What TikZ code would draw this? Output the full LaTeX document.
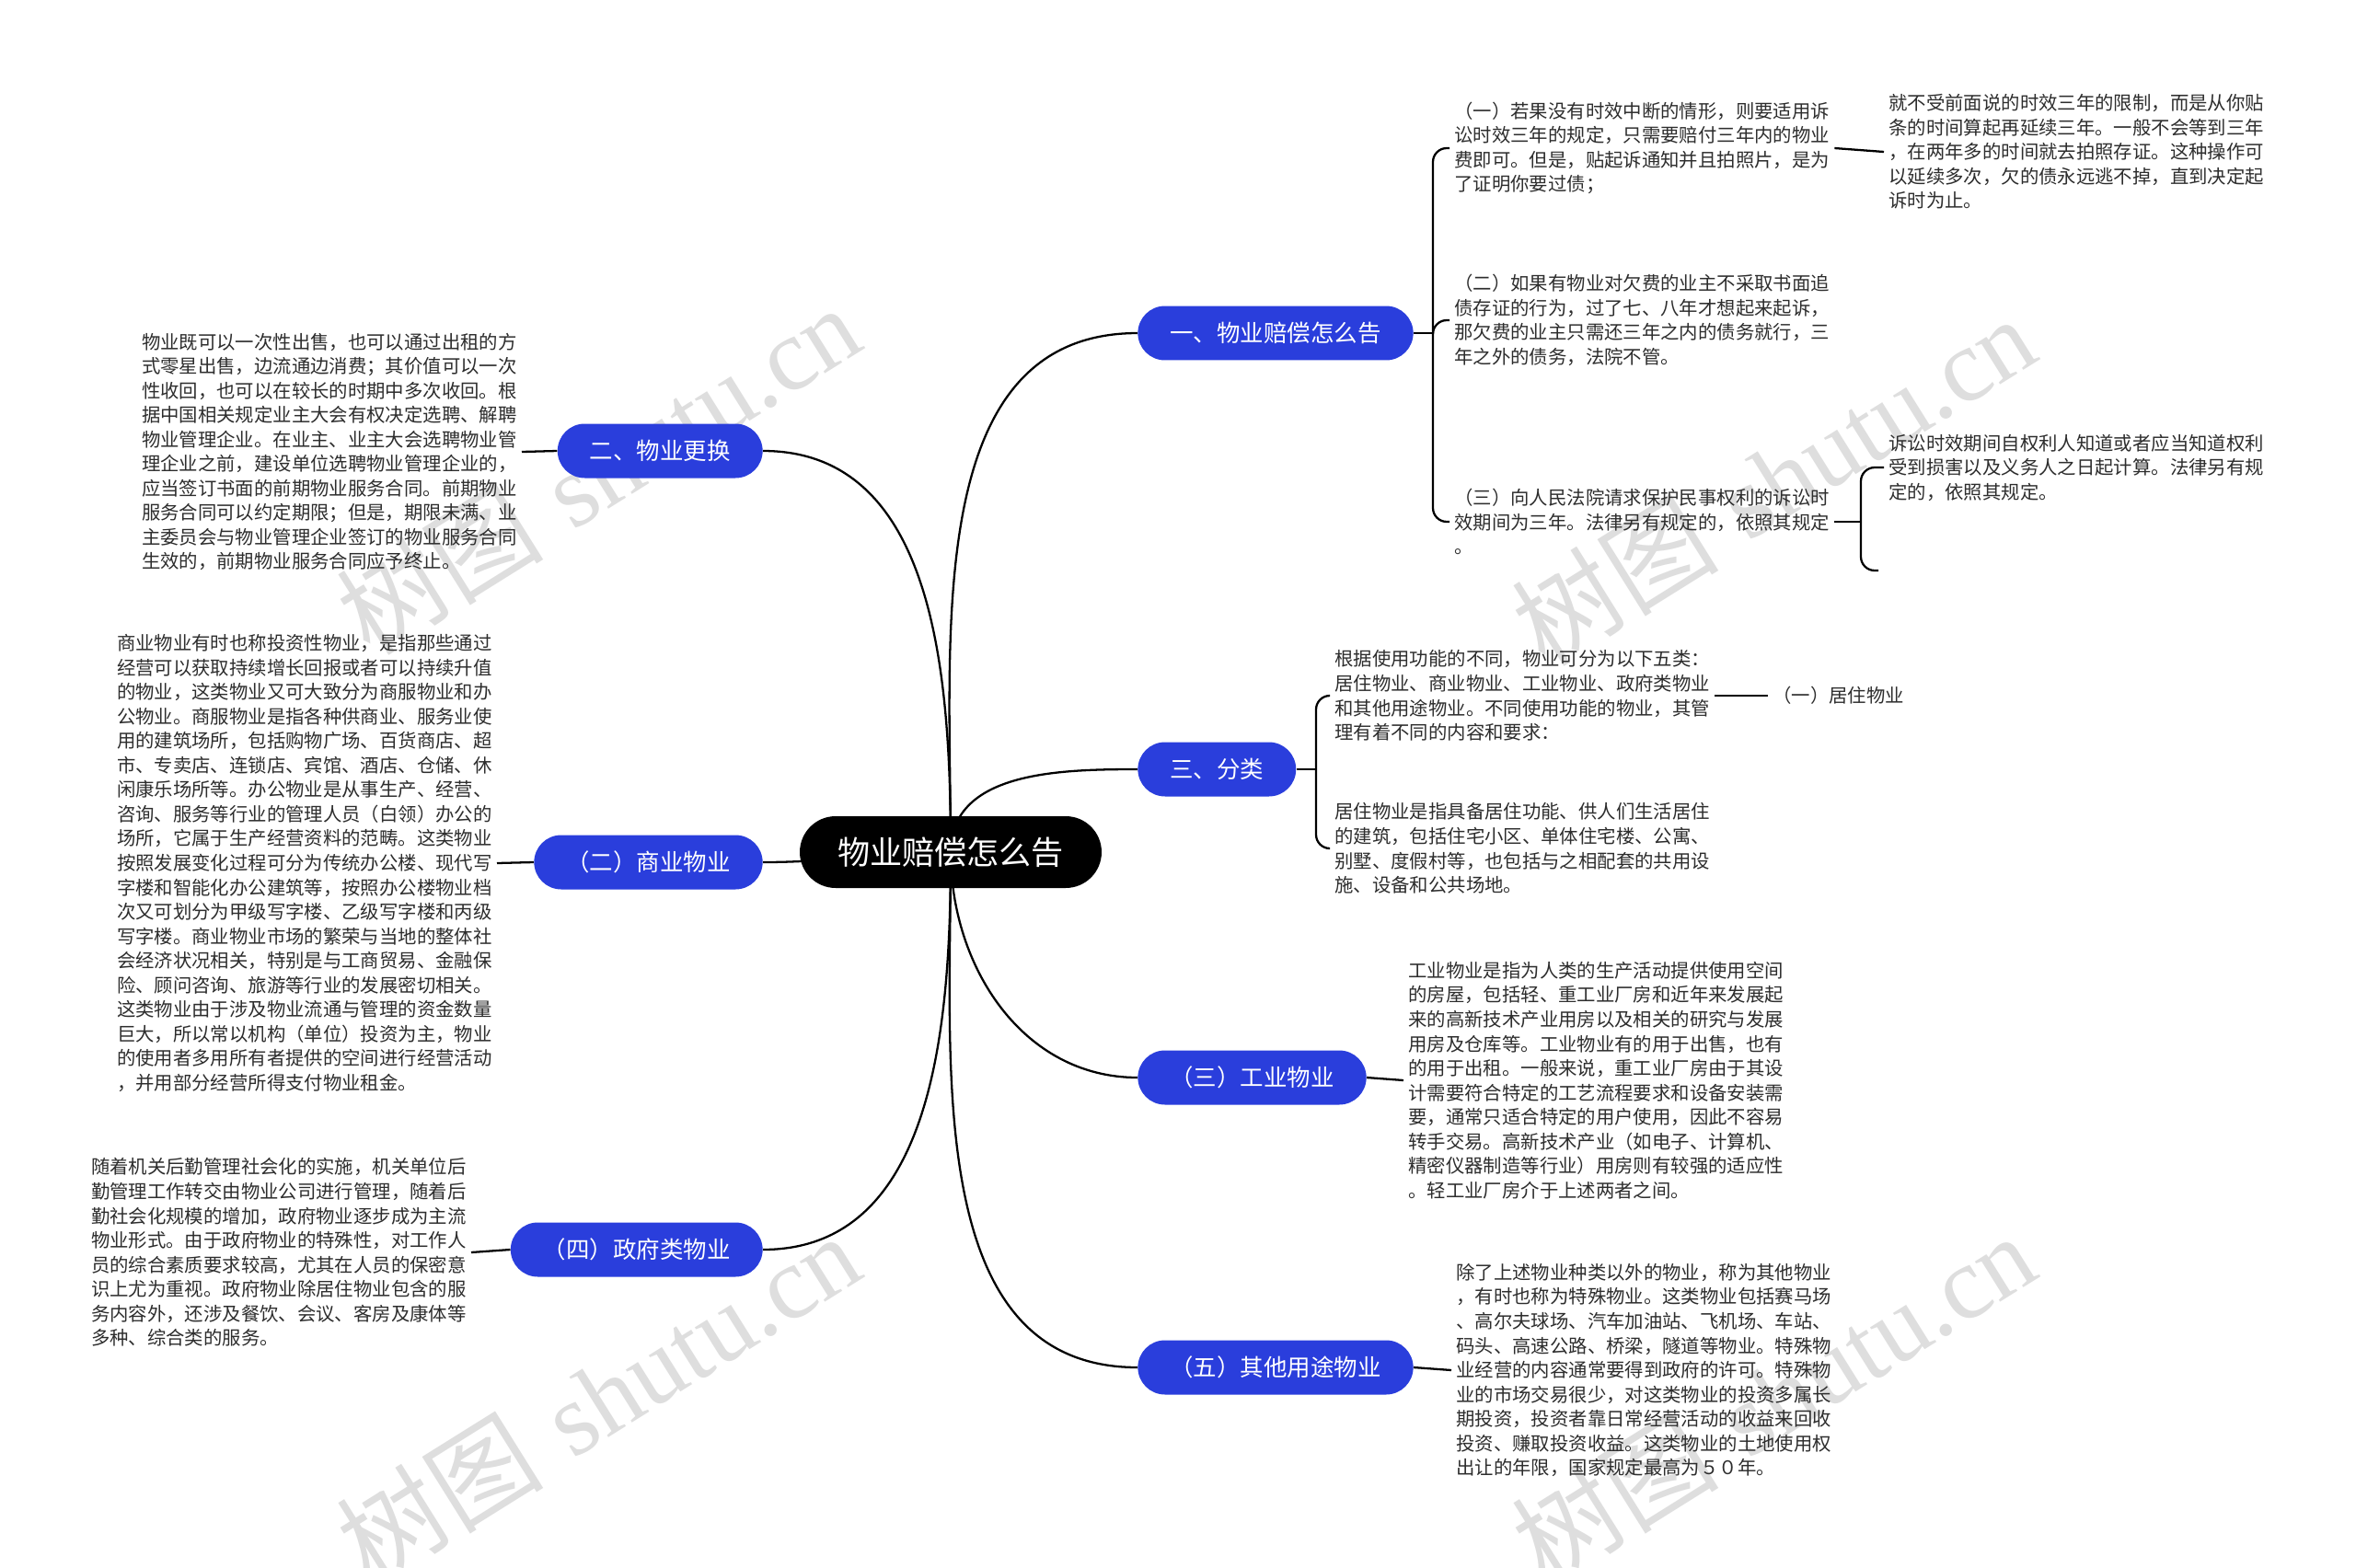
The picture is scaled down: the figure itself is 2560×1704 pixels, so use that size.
\documentclass[tikz,border=0pt]{standalone}
\usepackage{fontspec}
\newfontfamily\cjk{Noto Sans CJK SC}
\newfontfamily\wmserif{Liberation Serif}
\usepackage{xcolor}
\usetikzlibrary{backgrounds}
\definecolor{nodeblue}{RGB}{42,62,220}
\definecolor{txtgray}{RGB}{45,45,45}

\begin{document}
\begin{tikzpicture}[x=0.02cm, y=-0.02cm,
    rt/.style={fill=black, text=white, rounded corners=0.78cm, minimum height=1.56cm,
               inner xsep=0.82cm, font=\cjk\fontsize{20}{24}\selectfont},
    bl/.style={fill=nodeblue, text=white, rounded corners=0.59cm, minimum height=1.18cm,
               inner xsep=0.7cm, font=\cjk\fontsize{14.5}{17}\selectfont},
    tx/.style={align=left, inner sep=0.1cm, text=txtgray,
               font=\cjk\fontsize{11.6}{15.1}\selectfont},
    ed/.style={-, line width=1.3pt, black},
    br/.style={ed, rounded corners=0.3cm},
    wm/.style={rotate=32, text=black!13, font=\fontsize{64}{70}\selectfont}
  ]
    \useasboundingbox (0,0) rectangle (2560,1704);

    % centre and first level
    \node[rt] (root) at (1033,926) {物业赔偿怎么告};
    \node[bl, anchor=west] (peichang) at (1236,362)  {一、物业赔偿怎么告};
    \node[bl, anchor=east] (genghuan) at (829,490)   {二、物业更换};
    \node[bl, anchor=west] (fenlei)   at (1236,836)  {三、分类};
    \node[bl, anchor=east] (shangye)  at (829,937)   {（二）商业物业};
    \node[bl, anchor=west] (gongye)   at (1236,1171) {（三）工业物业};
    \node[bl, anchor=east] (zhengfu)  at (829,1358)  {（四）政府类物业};
    \node[bl, anchor=west] (qita)     at (1236,1486) {（五）其他用途物业};

    % texts
    \node[tx, anchor=west] (sx1) at (1575,161)
      {（一）若果没有时效中断的情形，则要适用诉\\讼时效三年的规定，只需要赔付三年内的物业\\费即可。但是，贴起诉通知并且拍照片，是为\\了证明你要过债；};
    \node[tx, anchor=west] (sx1b) at (2047,165)
      {就不受前面说的时效三年的限制，而是从你贴\\条的时间算起再延续三年。一般不会等到三年\\，在两年多的时间就去拍照存证。这种操作可\\以延续多次，欠的债永远逃不掉，直到决定起\\诉时为止。};
    \node[tx, anchor=west] (sx2) at (1575,348)
      {（二）如果有物业对欠费的业主不采取书面追\\债存证的行为，过了七、八年才想起来起诉，\\那欠费的业主只需还三年之内的债务就行，三\\年之外的债务，法院不管。};
    \node[tx, anchor=west] (sx3) at (1575,567)
      {（三）向人民法院请求保护民事权利的诉讼时\\效期间为三年。法律另有规定的，依照其规定\\。};
    \node[tx, anchor=west] (sx3b) at (2047,508)
      {诉讼时效期间自权利人知道或者应当知道权利\\受到损害以及义务人之日起计算。法律另有规\\定的，依照其规定。};
    \coordinate (sx3c) at (2041,620);

    \node[tx, anchor=east] (ghtxt) at (567,491)
      {物业既可以一次性出售，也可以通过出租的方\\式零星出售，边流通边消费；其价值可以一次\\性收回，也可以在较长的时期中多次收回。根\\据中国相关规定业主大会有权决定选聘、解聘\\物业管理企业。在业主、业主大会选聘物业管\\理企业之前，建设单位选聘物业管理企业的，\\应当签订书面的前期物业服务合同。前期物业\\服务合同可以约定期限；但是，期限未满、业\\主委员会与物业管理企业签订的物业服务合同\\生效的，前期物业服务合同应予终止。};

    \node[tx, anchor=west] (fl1) at (1445,756)
      {根据使用功能的不同，物业可分为以下五类：\\居住物业、商业物业、工业物业、政府类物业\\和其他用途物业。不同使用功能的物业，其管\\理有着不同的内容和要求：};
    \node[tx, anchor=west] (fl2) at (1445,922)
      {居住物业是指具备居住功能、供人们生活居住\\的建筑，包括住宅小区、单体住宅楼、公寓、\\别墅、度假村等，也包括与之相配套的共用设\\施、设备和公共场地。};
    \node[tx, anchor=west] (juzhu) at (1921,756) {（一）居住物业};

    \node[tx, anchor=east] (sytxt) at (540,938)
      {商业物业有时也称投资性物业，是指那些通过\\经营可以获取持续增长回报或者可以持续升值\\的物业，这类物业又可大致分为商服物业和办\\公物业。商服物业是指各种供商业、服务业使\\用的建筑场所，包括购物广场、百货商店、超\\市、专卖店、连锁店、宾馆、酒店、仓储、休\\闲康乐场所等。办公物业是从事生产、经营、\\咨询、服务等行业的管理人员（白领）办公的\\场所，它属于生产经营资料的范畴。这类物业\\按照发展变化过程可分为传统办公楼、现代写\\字楼和智能化办公建筑等，按照办公楼物业档\\次又可划分为甲级写字楼、乙级写字楼和丙级\\写字楼。商业物业市场的繁荣与当地的整体社\\会经济状况相关，特别是与工商贸易、金融保\\险、顾问咨询、旅游等行业的发展密切相关。\\这类物业由于涉及物业流通与管理的资金数量\\巨大，所以常以机构（单位）投资为主，物业\\的使用者多用所有者提供的空间进行经营活动\\，并用部分经营所得支付物业租金。};

    \node[tx, anchor=west] (gytxt) at (1525,1174)
      {工业物业是指为人类的生产活动提供使用空间\\的房屋，包括轻、重工业厂房和近年来发展起\\来的高新技术产业用房以及相关的研究与发展\\用房及仓库等。工业物业有的用于出售，也有\\的用于出租。一般来说，重工业厂房由于其设\\计需要符合特定的工艺流程要求和设备安装需\\要，通常只适合特定的用户使用，因此不容易\\转手交易。高新技术产业（如电子、计算机、\\精密仪器制造等行业）用房则有较强的适应性\\。轻工业厂房介于上述两者之间。};

    \node[tx, anchor=east] (zftxt) at (512,1361)
      {随着机关后勤管理社会化的实施，机关单位后\\勤管理工作转交由物业公司进行管理，随着后\\勤社会化规模的增加，政府物业逐步成为主流\\物业形式。由于政府物业的特殊性，对工作人\\员的综合素质要求较高，尤其在人员的保密意\\识上尤为重视。政府物业除居住物业包含的服\\务内容外，还涉及餐饮、会议、客房及康体等\\多种、综合类的服务。};

    \node[tx, anchor=west] (qttxt) at (1577,1489)
      {除了上述物业种类以外的物业，称为其他物业\\，有时也称为特殊物业。这类物业包括赛马场\\、高尔夫球场、汽车加油站、飞机场、车站、\\码头、高速公路、桥梁，隧道等物业。特殊物\\业经营的内容通常要得到政府的许可。特殊物\\业的市场交易很少，对这类物业的投资多属长\\期投资，投资者靠日常经营活动的收益来回收\\投资、赚取投资收益。这类物业的土地使用权\\出让的年限，国家规定最高为５０年。};

    % brackets
    \coordinate (bpc) at (1557,362);
    \coordinate (bfl) at (1430,836);
    \coordinate (bsx) at (2022,567);
    \draw[ed] (peichang.east) -- (bpc);
    \draw[br] (bpc) |- (sx1.west); \draw[br] (bpc) |- (sx2.west); \draw[br] (bpc) |- (sx3.west);
    \draw[ed] (sx1.east) -- (sx1b.west);
    \draw[ed] (sx3.east) -- (bsx);
    \draw[br] (bsx) |- (sx3b.west); \draw[br] (bsx) |- (sx3c);
    \draw[ed] (fenlei.east) -- (bfl);
    \draw[br] (bfl) |- (fl1.west); \draw[br] (bfl) |- (fl2.west);
    \draw[ed] (fl1.east) -- (juzhu.west);
    \draw[ed] (ghtxt.east) -- (genghuan.west);
    \draw[ed] (sytxt.east) -- (shangye.west);
    \draw[ed] (zftxt.east) -- (zhengfu.west);
    \draw[ed] (gongye.east) -- (gytxt.west);
    \draw[ed] (qita.east) -- (qttxt.west);

    \begin{scope}[on background layer]
      \fill[white] (0,0) rectangle (2560,1704);
      \node[wm] (wm1) at (650,510)   {{\cjk 树图} {\wmserif shutu.cn}};
      \node[wm] (wm2) at (1927,522)  {{\cjk 树图} {\wmserif shutu.cn}};
      \node[wm] (wm3) at (650,1519)  {{\cjk 树图} {\wmserif shutu.cn}};
      \node[wm] (wm4) at (1927,1519) {{\cjk 树图} {\wmserif shutu.cn}};
      \draw[ed] (root.center) to[out=90,in=180] (peichang.west);
      \draw[ed] (root.center) to[out=90,in=0] (genghuan.east);
      \draw[ed] (root.center) to[out=90,in=180] (fenlei.west);
      \draw[ed] (root.center) to[out=180,in=0] (shangye.east);
      \draw[ed] (root.center) to[out=-90,in=180] (gongye.west);
      \draw[ed] (root.center) to[out=-90,in=0] (zhengfu.east);
      \draw[ed] (root.center) to[out=-90,in=180] (qita.west);
    \end{scope}
  \end{tikzpicture}
\end{document}
